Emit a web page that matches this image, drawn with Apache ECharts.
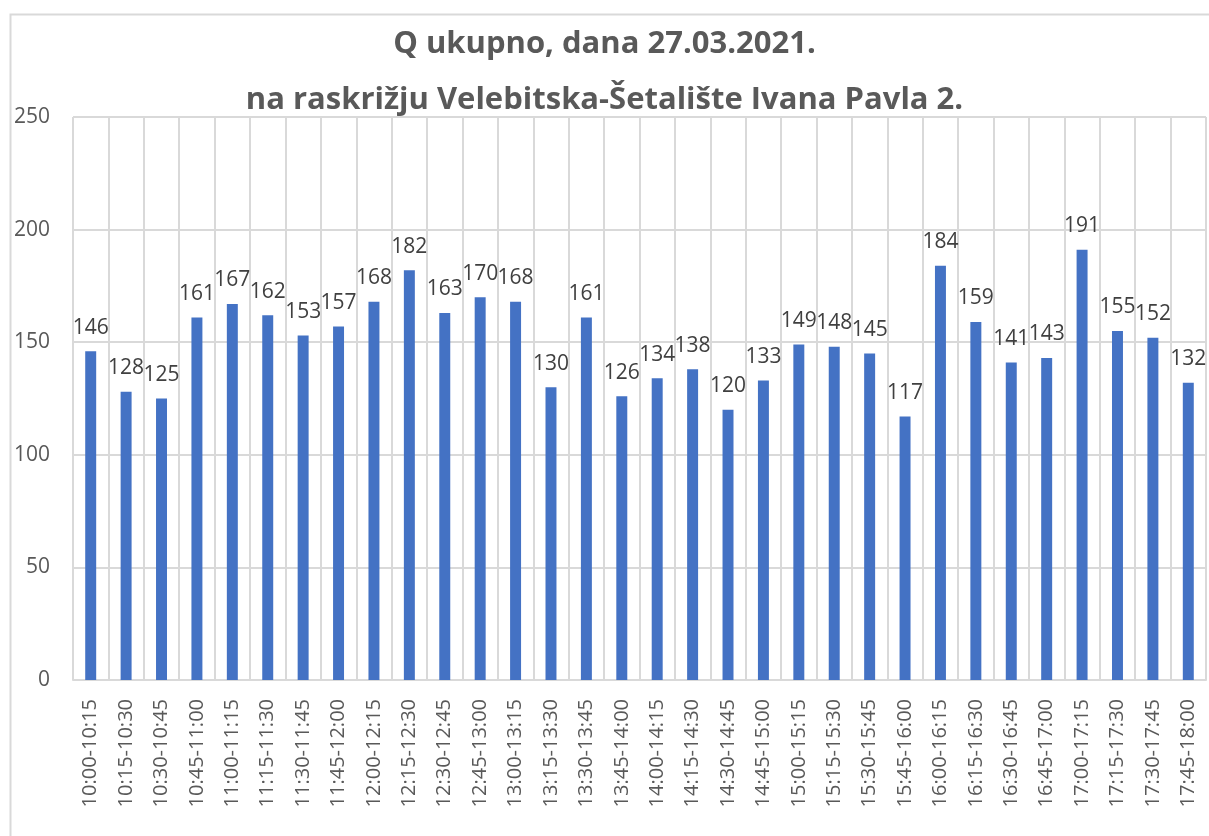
<!DOCTYPE html>
<html>
<head>
<meta charset="utf-8">
<script src="https://cdn.jsdelivr.net/npm/echarts@6/dist/echarts.min.js"></script>
<style>
  html, body { margin: 0; padding: 0; background: #fff; }
  #chart { width: 1209px; height: 836px; }
</style>
</head>
<body>
<div id="chart"></div>
<script>
const titleLines = ['Q ukupno, dana 27.03.2021.', 'na raskrižju Velebitska-Šetalište Ivana Pavla 2.']

const categories = [
  '10:00-10:15', '10:15-10:30', '10:30-10:45', '10:45-11:00',
  '11:00-11:15', '11:15-11:30', '11:30-11:45', '11:45-12:00',
  '12:00-12:15', '12:15-12:30', '12:30-12:45', '12:45-13:00',
  '13:00-13:15', '13:15-13:30', '13:30-13:45', '13:45-14:00',
  '14:00-14:15', '14:15-14:30', '14:30-14:45', '14:45-15:00',
  '15:00-15:15', '15:15-15:30', '15:30-15:45', '15:45-16:00',
  '16:00-16:15', '16:15-16:30', '16:30-16:45', '16:45-17:00',
  '17:00-17:15', '17:15-17:30', '17:30-17:45', '17:45-18:00'
]

const qValues = [
  146, 128, 125, 161, 167, 162, 153, 157,
  168, 182, 163, 170, 168, 130, 161, 126,
  134, 138, 120, 133, 149, 148, 145, 117,
  184, 159, 141, 143, 191, 155, 152, 132
]

const chart = echarts.init(document.getElementById('chart'))

const gridColor = '#d9d9d9'
const fontFamily = '"Open Sans", "Noto Sans", sans-serif'

chart.setOption({
  animation: false,
  textStyle: { fontFamily: fontFamily },
  // outer chart border (only top and left are inside the picture)
  graphic: [{
    type: 'rect',
    shape: { x: 10.5, y: 14.5, width: 1250, height: 900 },
    style: { fill: 'none', stroke: gridColor, lineWidth: 2 },
    silent: true
  }],
  title: [{
    text: titleLines[0],
    left: 'center',
    top: 24,
    textStyle: { color: '#595959', fontSize: 31, fontWeight: 'bold', fontFamily: fontFamily }
  }, {
    text: titleLines[1],
    left: 'center',
    top: 80,
    textStyle: { color: '#595959', fontSize: 31, fontWeight: 'bold', fontFamily: fontFamily }
  }],
  grid: {
    left: 73,
    right: 3,
    top: 117,
    bottom: 156
  },
  xAxis: {
    type: 'category',
    data: categories,
    axisLine: { show: true, lineStyle: { color: gridColor, width: 2 } },
    axisTick: { show: false },
    splitLine: { show: true, lineStyle: { color: gridColor, width: 2 } },
    axisLabel: {
      rotate: 90,
      interval: 0,
      margin: 19,
      color: '#595959',
      fontSize: 20
    }
  },
  yAxis: {
    type: 'value',
    min: 0,
    max: 250,
    interval: 50,
    axisLine: { show: false },
    axisTick: { show: false },
    splitLine: { lineStyle: { color: gridColor, width: 2 } },
    axisLabel: {
      color: '#595959',
      fontSize: 21,
      margin: 23
    }
  },
  series: [{
    type: 'bar',
    data: qValues,
    barWidth: '31%',
    itemStyle: { color: '#4472c4' },
    label: {
      show: true,
      position: 'top',
      distance: 13,
      color: '#404040',
      fontSize: 21
    }
  }]
})
</script>
</body>
</html>
